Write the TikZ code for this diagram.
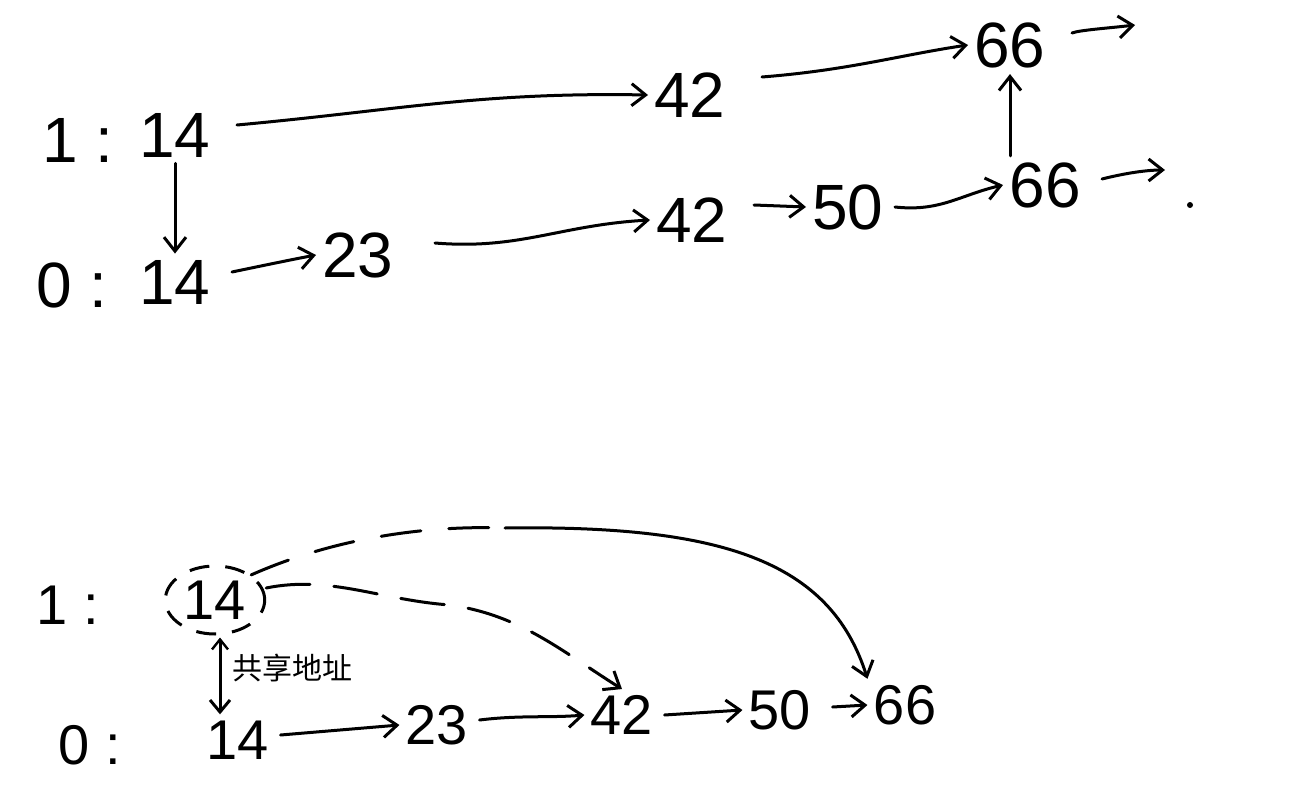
\documentclass[tikz,border=0pt]{standalone}
\usepackage{fontspec}
\setmainfont{Liberation Sans}
\newfontfamily\cjk{Noto Sans CJK SC}
\usetikzlibrary{arrows.meta,shapes.geometric}
\tikzset{
  num/.style={inner sep=3pt, font=\fontsize{32}{34}\selectfont},
  bnum/.style={inner sep=3pt, font=\fontsize{28}{30}\selectfont},
  arr/.style={line width=1.5pt, line cap=round, -{Straight Barb[length=7pt,width=11pt,line width=1.5pt]}},
  dasharr/.style={arr, dash pattern=on 22pt off 12pt},
  plain/.style={line width=1.5pt, line cap=round},
  dashring/.style={draw, ellipse, line width=1.5pt, dash pattern=on 10pt off 8pt, inner sep=2pt, minimum width=46pt, minimum height=34pt}
}
\begin{document}
\begin{tikzpicture}[x=0.5pt,y=-0.5pt]
\useasboundingbox (0,0) rectangle (1291,792);
% ---------- top skip list ----------
\node[num] (t1lab) at (78,140) {1 :};
\node[num] (t1a) at (175,135) {14};
\node[num] (t1b) at (690,95) {42};
\node[num] (t1c) at (1010,45) {66};
\coordinate (t1end) at (1135,25);
\node[num] (t0lab) at (72,285) {0 :};
\node[num] (t0a) at (175,282) {14};
\node[num] (t0b) at (358,255) {23};
\node[num] (t0c) at (692,220) {42};
\node[num] (t0d) at (848,207) {50};
\node[num] (t0e) at (1045,185) {66};
\coordinate (t0end) at (1165,170);
\fill (1190,205) circle (1.5pt) coordinate (t0dot);

\draw[arr] (t1a.east) ++(20,-10) coordinate (t1s) .. controls (400,110) and (480,92) .. (t1b.west);
\draw[arr] (t1b.east) ++(30,-18) coordinate (t1s2) .. controls (850,70) and (900,55) .. (t1c.west);
\draw[arr] (t1c.east) ++(20,-12) coordinate (t1s3) .. controls (1080,30) and (1110,28) .. (t1end);
\draw[arr] (t1a.south) -- (t0a.north);
\draw[arr] (t1c.south |- t0e.north) -- (t1c.south);

\draw[arr] (t0a.east) ++(15,-10) coordinate (t0s) .. controls (280,262) and (300,258) .. (t0b.west);
\draw[arr] (t0b.east) ++(35,-12) coordinate (t0s2) .. controls (520,250) and (560,225) .. (t0c.west);
\draw[arr] (t0c.east) ++(20,-15) coordinate (t0s3) -- (t0d.west);
\draw[arr] (t0d.east) ++(5,0) coordinate (t0s4) .. controls (940,212) and (960,195) .. (t0e.west);
\draw[arr] (t0e.east) ++(15,-6) coordinate (t0s5) .. controls (1130,172) and (1150,170) .. (t0end);

% ---------- bottom ----------
\node[bnum] (b1lab) at (68,605) {1 :};
\node[bnum, dashring] (b1a) at (215,600) {14};
\node[bnum] (b0lab) at (90,745) {0 :};
\node[bnum] (b0a) at (238,740) {14};
\node[bnum] (b0b) at (437,725) {23};
\node[bnum] (b0c) at (622,715) {42};
\node[bnum] (b0d) at (780,710) {50};
\node[bnum] (b0e) at (905,705) {66};
\node[font=\cjk\fontsize{15}{17}\selectfont] (share) at (292,668) {共享地址};
\coordinate (arcmid) at (505,528);

\draw[arr, {Straight Barb[length=5pt,width=8pt,line width=1.2pt]}-{Straight Barb[length=6pt,width=10pt,line width=1.5pt]}] (b1a.south) ++(5,2) coordinate (bs) -- (b0a.north -| bs);
\draw[dasharr] (b1a.east) ++(0,-12) coordinate (bd1)
   .. controls (330,575) and (380,600) .. (450,605)
   .. controls (520,615) and (560,650) .. (b0c.north);
\draw[plain, dash pattern=on 20pt off 14pt] (b1a.north east) .. controls (330,540) and (420,525) .. (arcmid);
\draw[arr] (arcmid) .. controls (720,525) and (830,560) .. (b0e.north west);

\draw[arr] (b0a.east) ++(5,-5) coordinate (bb1) -- (b0b.west);
\draw[arr] (b0b.east) ++(5,-5) coordinate (bb2) .. controls (520,715) and (550,718) .. (b0c.west);
\draw[arr] (b0c.east) ++(5,0) coordinate (bb3) -- (b0d.west);
\draw[arr] (b0d.east) ++(15,-3) coordinate (bb4) -- (b0e.west);
\end{tikzpicture}
\end{document}
